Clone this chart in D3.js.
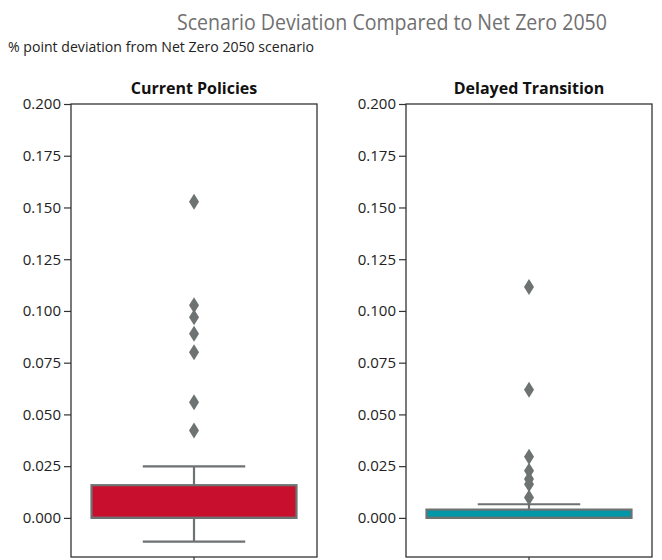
<!DOCTYPE html>
<html><head><meta charset="utf-8">
<script src="https://cdn.jsdelivr.net/npm/d3@7"></script>
<style>
body{margin:0;background:#fff;}
text{font-family:"Open Sans","Noto Sans",sans-serif;}
</style></head>
<body><svg id="c" width="662" height="560"></svg>
<script>
const panels = ["Current Policies", "Delayed Transition"];
const colors = ["#c8102e", "#0097a9"];
const q1 = [0.0, 0.0];
const median = [0.0, 0.0];
const q3 = [0.0158, 0.0040];
const whiskerLow = [-0.0115, 0.0];
const whiskerHigh = [0.0249, 0.0066];
const outliers = [
  [0.1528, 0.1027, 0.0970, 0.0890, 0.0801, 0.0559, 0.0422],
  [0.1116, 0.0619, 0.0296, 0.0228, 0.0188, 0.0163, 0.0098]
];
const yTicks = [0, 0.025, 0.05, 0.075, 0.1, 0.125, 0.15, 0.175, 0.2];
const yDomain = [-0.0189, 0.2];

(function () {
const svg = d3.select("#c");
const gray = "#6d7272";
svg.append("text").attr("x", 392).attr("y", 30).attr("text-anchor", "middle")
  .attr("font-size", 22).attr("fill", "#707070").attr("font-weight", 400)
  .attr("textLength", 430).attr("lengthAdjust", "spacingAndGlyphs")
  .text("Scenario Deviation Compared to Net Zero 2050");
svg.append("text").attr("x", 8).attr("y", 52)
  .attr("font-size", 15).attr("fill", "#222")
  .style("font-family", "'Liberation Sans Narrow','Open Sans',sans-serif")
  .attr("textLength", 306).attr("lengthAdjust", "spacingAndGlyphs")
  .text("% point deviation from Net Zero 2050 scenario");

const lefts = [71, 406];
const W = 246, plotTop = 104, plotBottom = 557;
const y = d3.scaleLinear().domain(yDomain).range([plotBottom, plotTop]);

panels.forEach((p, i) => {
  const g = svg.append("g").attr("transform", `translate(${lefts[i]},0)`);
  const x = d3.scaleBand().domain([p]).range([0, W]).paddingInner(0).paddingOuter(0.1);
  const bx = x(p);
  const bw = x.bandwidth();
  const cx = x(p) + bw / 2;
  const ya = d3.axisLeft(y).tickValues(yTicks).tickFormat(d3.format(".3f")).tickSize(7).tickPadding(3);
  const ag = g.append("g").call(ya);
  ag.select(".domain").remove();
  ag.selectAll("line").attr("stroke", "#333").attr("stroke-width", 1.2);
  ag.selectAll("text").attr("font-size", 15).attr("fill", "#222")
    .style("font-family", "'Liberation Sans Narrow','Open Sans',sans-serif");
  g.append("line").attr("x1", cx).attr("x2", cx).attr("y1", plotBottom).attr("y2", plotBottom + 7)
    .attr("stroke", "#333").attr("stroke-width", 1.2);
  g.append("rect").attr("x", 0).attr("y", plotTop).attr("width", W).attr("height", plotBottom - plotTop)
    .attr("fill", "none").attr("stroke", "#333").attr("stroke-width", 1.3);
  const capW = bw / 2;
  g.append("line").attr("x1", cx).attr("x2", cx).attr("y1", y(whiskerHigh[i])).attr("y2", y(q3[i]))
    .attr("stroke", gray).attr("stroke-width", 2.2);
  g.append("line").attr("x1", cx).attr("x2", cx).attr("y1", y(whiskerLow[i])).attr("y2", y(q1[i]))
    .attr("stroke", gray).attr("stroke-width", 2.2);
  [whiskerHigh[i], whiskerLow[i]].forEach(v => {
    g.append("line").attr("x1", cx - capW / 2).attr("x2", cx + capW / 2).attr("y1", y(v)).attr("y2", y(v))
      .attr("stroke", gray).attr("stroke-width", 2.2);
  });
  g.append("rect").attr("x", bx).attr("y", y(q3[i])).attr("width", bw).attr("height", y(q1[i]) - y(q3[i]))
    .attr("fill", colors[i]).attr("stroke", gray).attr("stroke-width", 2.2);
  g.append("line").attr("x1", bx).attr("x2", bx + bw).attr("y1", y(median[i])).attr("y2", y(median[i]))
    .attr("stroke", gray).attr("stroke-width", 2.2);
  g.selectAll("path.o").data(outliers[i]).join("path").attr("class", "o")
    .attr("d", "M0,-8L5,0L0,8L-5,0Z")
    .attr("transform", d => `translate(${cx},${y(d)})`)
    .attr("fill", gray);
  g.append("text").attr("x", W / 2).attr("y", 94).attr("text-anchor", "middle")
    .attr("font-size", 16).attr("font-weight", 700).attr("fill", "#111").text(p);
});
})();
</script></body></html>
